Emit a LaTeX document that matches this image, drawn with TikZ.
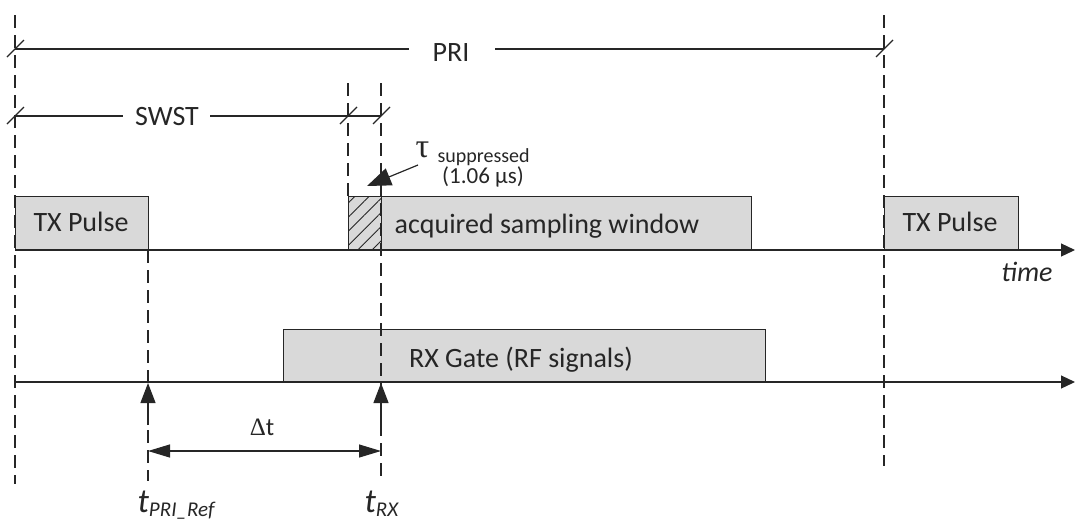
\documentclass[tikz,border=0pt]{standalone}
\usepackage{fontspec}
\setmainfont{Carlito}
\newfontfamily\symfont{Liberation Serif}
\usetikzlibrary{arrows.meta,patterns.meta}
\definecolor{boxgray}{HTML}{D9D9D9}
\definecolor{ink}{HTML}{262626}
\begin{document}
\begin{tikzpicture}[x=1pt,y=-1pt,line width=1.2pt,draw=ink,
  sigbox/.style={draw=ink,line width=1.2pt,fill=boxgray,inner sep=0pt,anchor=south west},
  txt/.style={inner sep=0pt,anchor=base,text=ink,font=\fontsize{28}{32}\selectfont},
  smalltxt/.style={inner sep=0pt,anchor=base,text=ink,font=\fontsize{20}{24}\selectfont},
  guide/.style={draw=ink,line width=1.2pt,dash pattern=on 13pt off 7pt},
  axis/.style={draw=ink,line width=1.2pt,-{Triangle[length=14pt,width=13pt]}},
  uparrow/.style={draw=ink,line width=1.2pt,-{Triangle[length=20pt,width=15pt]}},
  dimarrow/.style={draw=ink,line width=1.2pt,{Triangle[length=22pt,width=13pt]}-{Triangle[length=22pt,width=13pt]}},
  slash/.style={draw=ink,line width=1.2pt}
]
\useasboundingbox (0,0) rectangle (1075,523);

% key coordinates
\coordinate (x0top) at (15,15);
\coordinate (x0bot) at (15,484);
\coordinate (x1top) at (884,15);
\coordinate (x1bot) at (884,466);
\coordinate (tauLtop) at (348,83);
\coordinate (tauRtop) at (381,83);
\coordinate (tauRbot) at (381,481);
\coordinate (refTop) at (148,250);
\coordinate (refBot) at (148,481);

% axes
\coordinate (ax1s) at (15,250);
\coordinate (ax1e) at (1075,250);
\coordinate (ax2s) at (15,382);
\coordinate (ax2e) at (1075,382);

% boxes
\node[sigbox,minimum width=133pt,minimum height=53pt] (tx1) at (15,250) {};
\node[sigbox,minimum width=33pt,minimum height=53pt,
      postaction={pattern={Lines[angle=45,distance=10pt,line width=0.9pt]},pattern color=ink}] (sup) at (348,250) {};
\node[sigbox,minimum width=370pt,minimum height=53pt] (acq) at (381,250) {};
\node[sigbox,minimum width=134pt,minimum height=53pt] (tx2) at (884,250) {};
\node[sigbox,minimum width=482pt,minimum height=52pt] (rx) at (283,382) {};

% guides
\draw[guide] (x0top) -- (x0bot);
\draw[guide] (x1top) -- (x1bot);
\draw[guide] (tauLtop) -- (sup.north west);
\draw[guide] (tauRtop) -- (tauRbot);
\draw[guide] (refTop) -- (refBot);

% axes
\draw[axis] (ax1s) -- (ax1e);
\draw[axis] (ax2s) -- (ax2e);

% box texts
\node[txt] (txl1) at (81,231) {TX Pulse};
\node[txt,anchor=base west] (acql) at (394,233) {acquired sampling window};
\node[txt] (txl2) at (950,231) {TX Pulse};
\node[txt] (rxl) at (521,367) {RX Gate (RF signals)};
\node[txt,font=\fontsize{28}{32}\selectfont\itshape] (timel) at (1027,281) {time};

% PRI dimension
\coordinate (pA) at (15,49);
\coordinate (pB) at (884,49);
\node[txt] (pri) at (451,61) {PRI};
\draw (pA) -- (409,49);
\draw (495,49) -- (pB);
\draw[slash] ([shift={(-8,8)}]pA) -- ([shift={(9,-9)}]pA);
\draw[slash] ([shift={(-8,8)}]pB) -- ([shift={(9,-9)}]pB);

% SWST dimension
\coordinate (sA) at (15,116);
\coordinate (sB) at (348,116);
\coordinate (sC) at (381,116);
\node[txt] (swst) at (167,125) {SWST};
\draw (sA) -- (123,116);
\draw (210,116) -- (sB) -- (sC);
\draw[slash] ([shift={(-8,8)}]sA) -- ([shift={(9,-9)}]sA);
\draw[slash] ([shift={(-8,8)}]sB) -- ([shift={(9,-9)}]sB);
\draw[slash] ([shift={(-8,8)}]sC) -- ([shift={(9,-9)}]sC);

% tau suppressed
\node[inner sep=0pt,anchor=base west,text=ink,font=\fontsize{34}{38}\selectfont\symfont] (tau) at (415,157) {τ};
\node[smalltxt,anchor=base west] (tausub) at (437,162) {suppressed};
\node[txt,font=\fontsize{23}{27}\selectfont] (taudur) at (483,183) {(1.06 µs)};
\coordinate (tauArrowStart) at (418,165);
\coordinate (tauArrowEnd) at (367,186);
\draw[draw=ink,line width=1.2pt,-{Triangle[length=24pt,width=18pt]}] (tauArrowStart) -- (tauArrowEnd);

% reference arrows
\coordinate (refArrowStart) at (148,425);
\coordinate (refArrowEnd) at (148,383);
\coordinate (rxArrowStart) at (381,425);
\coordinate (rxArrowEnd) at (381,383);
\draw[uparrow] (refArrowStart) -- (refArrowEnd);
\draw[uparrow] (rxArrowStart) -- (rxArrowEnd);

% delta t
\coordinate (dA) at (148,451);
\coordinate (dB) at (381,451);
\draw[dimarrow] (dA) -- (dB);
\node[txt,font=\fontsize{25}{29}\selectfont] (dtl) at (262,435) {{\symfont Δ}t};

% time labels
\node[inner sep=0pt,anchor=base west,text=ink,font=\fontsize{34}{40}\selectfont\itshape] (tref) at (137,512) {t\raisebox{-4pt}{\fontsize{21}{24}\selectfont PRI\_Ref}};
\node[inner sep=0pt,anchor=base west,text=ink,font=\fontsize{34}{40}\selectfont\itshape] (trx) at (364,512) {t\raisebox{-4pt}{\fontsize{21}{24}\selectfont RX}};
\end{tikzpicture}
\end{document}
